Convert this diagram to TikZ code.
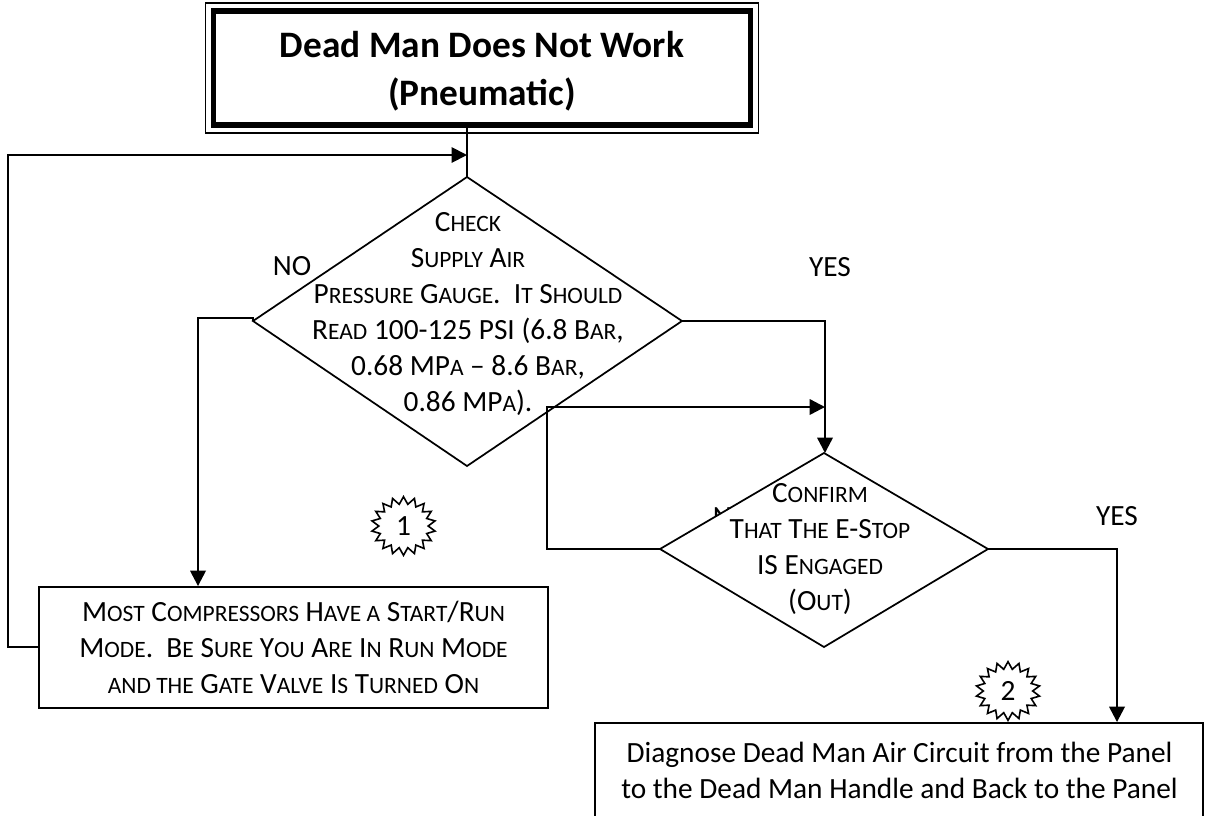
\documentclass[tikz,border=0pt]{standalone}
\usepackage{fontspec}
\setmainfont{Carlito}
\usetikzlibrary{shapes.geometric,shapes.symbols,arrows.meta}
\newcommand\sm[1]{{\fontsize{17.6}{17.6}\selectfont #1}}
\tikzset{
  x=0.75pt,y=-0.75pt,
  line/.style={draw=black,line width=1.8pt},
  thinline/.style={draw=black,line width=1.4pt},
  shapeline/.style={draw=black,line width=1.3pt,fill=white},
  arr/.style={line,-{Triangle[length=11.5pt,width=11.5pt]}},
  thinarr/.style={thinline,-{Triangle[length=11.5pt,width=11.5pt]}},
  lbl/.style={font=\fontsize{22}{22}\selectfont,inner sep=0pt},
  boxtxt/.style={align=center,font=\fontsize{22}{27}\selectfont,inner sep=0pt},
  burst/.style={starburst,starburst points=18,starburst point height=5.5pt,random starburst=0,draw=black,line width=1.2pt,fill=white,minimum width=48pt,minimum height=44pt,inner sep=0pt},
}
\begin{document}
\begin{tikzpicture}
\useasboundingbox (0,0) rectangle (1206,815);
\clip (0,0) rectangle (1206,815);
% title
\node[draw=black,line width=0.9pt,minimum width=553*0.75pt,minimum height=130*0.75pt,inner sep=0pt] (titleouter) at (482,68) {};
\node[draw=black,line width=4pt,minimum width=537*0.75pt,minimum height=114*0.75pt,fill=white,inner sep=0pt] (title) at (482,68) {};
\node[align=center,inner sep=0pt,font=\fontsize{28}{36}\selectfont\bfseries] (titletxt) at (482,71) {Dead Man Does Not Work\\(Pneumatic)};
% hidden label beneath diamond
\node[lbl] (nohidden) at (732,517) {NO};
% diamonds
\coordinate (dT) at (467,177); \coordinate (dL) at (253,321); \coordinate (dR) at (682,321); \coordinate (dB) at (467,466);
\draw[shapeline] (dT) -- (dR) -- (dB) -- (dL) -- cycle;
\node[boxtxt] (check) at (468,314) {C\sm{HECK}\\S\sm{UPPLY} A\sm{IR}\\P\sm{RESSURE} G\sm{AUGE}.\ \ I\sm{T} S\sm{HOULD}\\R\sm{EAD} 100-125 PSI (6.8 B\sm{AR},\\0.68 MP\sm{A} -- 8.6 B\sm{AR},\\0.86 MP\sm{A}).};
\coordinate (eT) at (824,453); \coordinate (eL) at (660,549); \coordinate (eR) at (988,549); \coordinate (eB) at (824,647);
\draw[shapeline] (eT) -- (eR) -- (eB) -- (eL) -- cycle;
\node[boxtxt] (confirm) at (820,549) {C\sm{ONFIRM}\\T\sm{HAT} T\sm{HE} E-S\sm{TOP}\\IS E\sm{NGAGED}\\(O\sm{UT})};
% boxes
\node[thinline,fill=white,minimum width=509*0.75pt,minimum height=121*0.75pt,inner sep=0pt,boxtxt] (comp) at (293.5,647.5) {M\sm{OST} C\sm{OMPRESSORS} H\sm{AVE A} S\sm{TART}/R\sm{UN}\\M\sm{ODE}.\ \ B\sm{E} S\sm{URE} Y\sm{OU} A\sm{RE} I\sm{N} R\sm{UN} M\sm{ODE}\\\sm{AND THE} G\sm{ATE} V\sm{ALVE} I\sm{S} T\sm{URNED} O\sm{N}};
\node[thinline,fill=white,minimum width=608*0.75pt,minimum height=130*0.75pt,inner sep=0pt] (diag) at (899,788) {};
\node[boxtxt] (diagtxt) at (899.5,770) {Diagnose Dead Man Air Circuit from the Panel\\to the Dead Man Handle and Back to the Panel};
% labels
\node[lbl] (no1) at (292,266) {NO};
\node[lbl] (yes1) at (830,267) {YES};
\node[lbl] (yes2) at (1117,516) {YES};
\node[burst,font=\fontsize{22}{22}\selectfont] (b1) at (403.5,526) {1};
\node[burst,font=\fontsize{22}{22}\selectfont] (b2) at (1008,691) {2};
% connectors
\coordinate (j1) at (467,155);
\draw[thinline] (j1 |- title.south) -- (dT);
\coordinate (c1a) at (8,647); \coordinate (c1b) at (8,155);
\draw[thinarr] (comp.west |- c1a) -- (c1a) -- (c1b) -- (j1);
\coordinate (c2) at (198,318);
\draw[arr] (dL) -- (253,318) -- (c2) -- (c2 |- comp.north);
\coordinate (c3) at (825,321);
\draw[arr] (dR) -- (c3) -- (c3 |- eT);
\coordinate (c4a) at (547,549); \coordinate (c4b) at (547,407); \coordinate (c4c) at (825,407);
\draw[arr] (eL) -- (c4a) -- (c4b) -- (c4c);
\coordinate (c5) at (1117,549);
\draw[arr] (eR) -- (c5) -- (c5 |- diag.north);
\end{tikzpicture}
\end{document}
